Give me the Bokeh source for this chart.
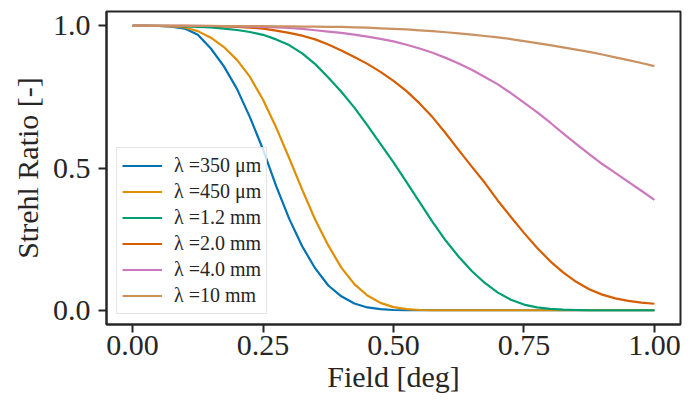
from bokeh.plotting import figure
from bokeh.models import Range1d, FixedTicker, NumeralTickFormatter, Legend, LegendItem
from bokeh.embed import file_html
from bokeh.resources import INLINE

field = [0.0, 0.025, 0.05, 0.075, 0.1, 0.125, 0.15, 0.175, 0.2, 0.225,
         0.25, 0.275, 0.3, 0.325, 0.35, 0.375, 0.4, 0.425, 0.45, 0.475,
         0.5, 0.525, 0.55, 0.575, 0.6, 0.625, 0.65, 0.675, 0.7, 0.725,
         0.75, 0.775, 0.8, 0.825, 0.85, 0.875, 0.9, 0.925, 0.95, 0.975, 1.0]

strehl_350um = [1.0, 1.0, 0.999, 0.997, 0.99, 0.968, 0.92, 0.857, 0.778, 0.678,
                0.565, 0.437, 0.322, 0.225, 0.147, 0.087, 0.049, 0.024, 0.010, 0.004,
                0.001, 0, 0, 0, 0, 0, 0, 0, 0, 0,
                0, 0, 0, 0, 0, 0, 0, 0, 0, 0, 0]
strehl_450um = [1.0, 1.0, 0.999, 0.998, 0.994, 0.981, 0.958, 0.925, 0.88, 0.82,
                0.74, 0.643, 0.535, 0.424, 0.318, 0.228, 0.15, 0.092, 0.052, 0.026,
                0.011, 0.004, 0.001, 0, 0, 0, 0, 0, 0, 0,
                0, 0, 0, 0, 0, 0, 0, 0, 0, 0, 0]
strehl_1p2mm = [1.0, 1.0, 1.0, 0.999, 0.998, 0.996, 0.994, 0.99, 0.985, 0.978,
                0.968, 0.952, 0.932, 0.903, 0.865, 0.818, 0.768, 0.712, 0.65, 0.585,
                0.52, 0.45, 0.38, 0.31, 0.245, 0.188, 0.138, 0.096, 0.062, 0.037,
                0.02, 0.01, 0.005, 0.002, 0.001, 0, 0, 0, 0, 0, 0]
strehl_2p0mm = [1.0, 1.0, 1.0, 1.0, 1.0, 0.999, 0.999, 0.998, 0.996, 0.993,
                0.99, 0.983, 0.975, 0.965, 0.952, 0.934, 0.913, 0.89, 0.866, 0.838,
                0.806, 0.77, 0.727, 0.678, 0.622, 0.563, 0.505, 0.448, 0.385, 0.328,
                0.272, 0.22, 0.173, 0.133, 0.1, 0.074, 0.055, 0.042, 0.033, 0.027, 0.023]
strehl_4p0mm = [1.0, 1.0, 1.0, 1.0, 1.0, 1.0, 0.999, 0.999, 0.998, 0.997,
                0.996, 0.994, 0.992, 0.989, 0.984, 0.979, 0.975, 0.969, 0.962, 0.954,
                0.945, 0.933, 0.92, 0.905, 0.887, 0.867, 0.845, 0.82, 0.794, 0.763,
                0.73, 0.696, 0.66, 0.622, 0.585, 0.549, 0.514, 0.483, 0.451, 0.42, 0.388]
strehl_10mm = [1.0, 1.0, 1.0, 1.0, 1.0, 1.0, 1.0, 0.999, 0.999, 0.999,
               0.999, 0.998, 0.998, 0.997, 0.997, 0.996, 0.996, 0.994, 0.993, 0.991,
               0.989, 0.987, 0.984, 0.981, 0.977, 0.973, 0.969, 0.964, 0.959, 0.953,
               0.946, 0.939, 0.932, 0.924, 0.916, 0.908, 0.899, 0.889, 0.879, 0.869, 0.858]

labels = ["λ =350 μm", "λ =450 μm", "λ =1.2 mm", "λ =2.0 mm", "λ =4.0 mm", "λ =10 mm"]
series = [strehl_350um, strehl_450um, strehl_1p2mm, strehl_2p0mm, strehl_4p0mm, strehl_10mm]
colors = ["#0173B2", "#DE8F05", "#029E73", "#D55E00", "#CC78BC", "#CA9161"]

x_ticks = [0.0, 0.25, 0.5, 0.75, 1.0]
y_ticks = [0.0, 0.5, 1.0]

FONT = "Liberation Serif"
DARK = "#262626"

p = figure(width=688, height=400, output_backend="svg", toolbar_location=None,
           x_range=Range1d(-0.05, 1.05), y_range=Range1d(-0.05, 1.05),
           min_border_left=106, min_border_right=8, min_border_top=11, min_border_bottom=76)
p.grid.visible = False
p.background_fill_color = "white"
p.border_fill_color = "white"
p.outline_line_color = DARK
p.outline_line_width = 2

items = []
for lab, ys, c in zip(labels, series, colors):
    r = p.line(field, ys, line_color=c, line_width=2.2, line_join="round")
    items.append(LegendItem(label=lab, renderers=[r]))

for ax in (p.xaxis[0], p.yaxis[0]):
    ax.axis_line_color = DARK
    ax.axis_line_width = 2
    ax.major_tick_line_color = DARK
    ax.major_tick_line_width = 2
    ax.major_tick_out = 8
    ax.major_tick_in = 0
    ax.minor_tick_line_color = None
    ax.major_label_text_font = FONT
    ax.major_label_text_font_size = "30px"
    ax.major_label_text_color = DARK
    ax.axis_label_text_font = FONT
    ax.axis_label_text_font_size = "30px"
    ax.axis_label_text_font_style = "normal"
    ax.axis_label_text_color = DARK

p.xaxis[0].ticker = FixedTicker(ticks=x_ticks)
p.xaxis[0].formatter = NumeralTickFormatter(format="0.00")
p.xaxis[0].axis_label = "Field [deg]"
p.xaxis[0].major_label_standoff = 3
p.xaxis[0].axis_label_standoff = 2

p.yaxis[0].ticker = FixedTicker(ticks=y_ticks)
p.yaxis[0].formatter = NumeralTickFormatter(format="0.0")
p.yaxis[0].axis_label = "Strehl Ratio [-]"
p.yaxis[0].major_label_standoff = 8
p.yaxis[0].axis_label_standoff = 6

legend = Legend(items=items, location="bottom_left",
                label_text_font=FONT, label_text_font_size="20px", label_text_color=DARK,
                glyph_width=40, glyph_height=25, label_height=25, label_standoff=12,
                spacing=1, padding=5, margin=10,
                background_fill_color="white", background_fill_alpha=0.8,
                border_line_color="#cccccc", border_line_width=1.2)
p.add_layout(legend, "center")

open("out.html", "w").write(file_html(p, INLINE))
